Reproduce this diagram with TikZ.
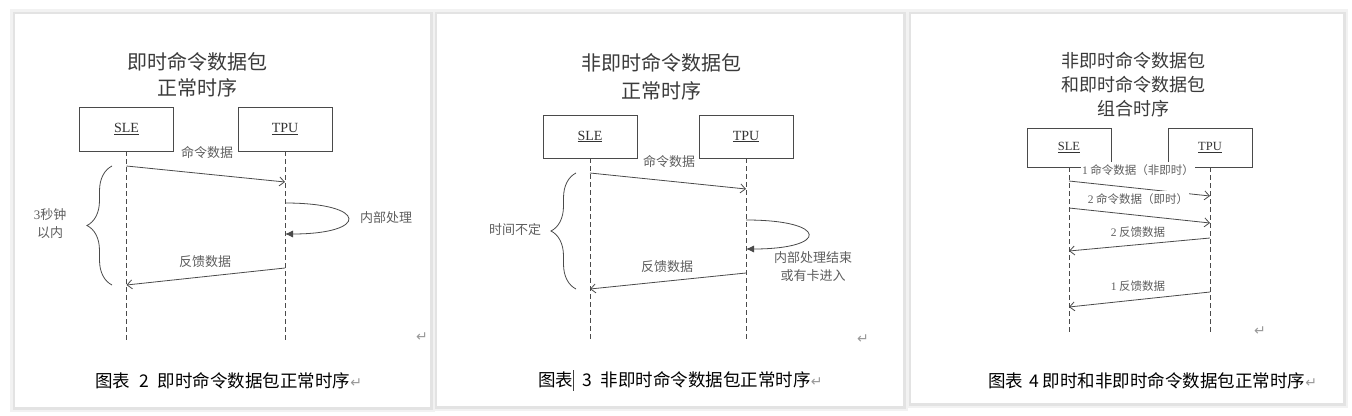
\documentclass[tikz,border=0pt]{standalone}
\usepackage{fontspec}
\setmainfont{Liberation Serif}
\newfontfamily\zhfont{Noto Sans CJK SC}
\newfontfamily\symfont{DejaVu Sans}
\usetikzlibrary{arrows.meta,decorations.pathreplacing}
\definecolor{linegray}{HTML}{4A4A4A}
\definecolor{textgray}{HTML}{5E5E5E}
\definecolor{titlegray}{HTML}{3A3A3A}
\newcommand\latn[1]{{\rmfamily #1}}
\newcommand\retmark{{\symfont\fontsize{14}{14}\selectfont\color{black!40}↵}}

\begin{document}
\begin{tikzpicture}[x=1pt, y=-1pt,
  lifebox/.style={draw=linegray, line width=0.8pt, fill=white, minimum width=94pt,
    minimum height=44pt, inner sep=0pt, text=black!80, font=\fontsize{14}{14}\selectfont},
  smallbox/.style={lifebox, minimum width=84pt, minimum height=39pt, font=\fontsize{12.5}{12.5}\selectfont},
  lifeline/.style={draw=linegray, line width=0.8pt, dash pattern=on 5pt off 3pt},
  msg/.style={draw=linegray, line width=0.8pt, -{Straight Barb[length=5pt,width=9pt]}},
  selfmsg/.style={draw=linegray, line width=0.8pt, -{Latex[length=8pt,width=7pt]}},
  bracket/.style={draw=linegray, line width=0.8pt, decorate, decoration={brace, amplitude=25pt}},
  lbl/.style={text=textgray, inner sep=1pt, font=\zhfont\fontsize{13}{18}\selectfont, align=center},
  smalllbl/.style={lbl, fill=white, inner xsep=1pt, inner ysep=2.5pt, font=\zhfont\fontsize{11.5}{14}\selectfont},
  title/.style={text=titlegray, align=center, font=\zhfont\fontsize{20}{26}\selectfont},
  caption/.style={anchor=west, inner sep=0pt, font=\zhfont\fontsize{17.5}{20}\selectfont}]

\useasboundingbox (0,0) rectangle (1352,415);
\fill[white] (0,0) rectangle (1352,415);
% panels with their shadow
\fill[black!5] (10,9) rectangle (435,412);
\fill[black!5] (432,9) rectangle (908,411);
\fill[black!5] (906,9) rectangle (1348,408);
\fill[black!11] (12.5,11.5) rectangle (432.5,409.5);
\fill[black!11] (434.5,11.5) rectangle (905.5,408.5);
\fill[black!11] (908.5,11.5) rectangle (1345.5,405.5);
\fill[white] (15,14) rectangle (430,407);
\fill[white] (437,14) rectangle (903,406);
\fill[white] (911,14) rectangle (1343,403);

% ---- figure 2
\node[title] (title1) at (197,75) {即时命令数据包\\正常时序};
\node[lifebox] (sle1) at (126.5,129) {\underline{SLE}};
\node[lifebox] (tpu1) at (285,129) {\underline{TPU}};
\coordinate (sle1end) at (126.5,340);
\coordinate (tpu1end) at (285,340);
\draw[lifeline] (sle1) -- (sle1end);
\draw[lifeline] (tpu1) -- (tpu1end);
\draw[msg] (sle1.south |- 0,166) -- (tpu1.south |- 0,182);
\draw[selfmsg] (tpu1.south |- 0,203) .. controls +(84,0) and +(84,0) .. (tpu1.south |- 0,234);
\draw[msg] (tpu1.south |- 0,268) -- (sle1.south |- 0,285);
\node[lbl] (cmd1) at (207,153) {命令数据};
\node[lbl] (proc1) at (386,218) {内部处理};
\node[lbl] (back1) at (205,262) {反馈数据};
\draw[bracket] (112,285) -- (112,166);
\node[lbl] (time1) at (50,224) {\latn{3}秒钟\\以内};
\node (ret1) at (422,337) {\retmark};
\node[caption] (cap1) at (95,381) {图表\hspace{9pt}2\hspace{9pt}即时命令数据包正常时序\retmark};

% ---- figure 3
\node[title, font=\zhfont\fontsize{20}{28}\selectfont] (title2) at (661,77) {非即时命令数据包\\正常时序};
\node[lifebox, minimum height=43pt] (sle2) at (590,136.5) {\underline{SLE}};
\node[lifebox, minimum height=43pt] (tpu2) at (746,136.5) {\underline{TPU}};
\coordinate (sle2end) at (590,342);
\coordinate (tpu2end) at (746,342);
\draw[lifeline] (sle2) -- (sle2end);
\draw[lifeline] (tpu2) -- (tpu2end);
\draw[msg] (sle2.south |- 0,173) -- (tpu2.south |- 0,189);
\draw[selfmsg] (tpu2.south |- 0,220) .. controls +(83,0) and +(83,0) .. (tpu2.south |- 0,249);
\draw[msg] (tpu2.south |- 0,273) -- (sle2.south |- 0,289);
\node[lbl] (cmd2) at (669,162) {命令数据};
\node[lbl] (proc2) at (813,267) {内部处理结束\\或有卡进入};
\node[lbl] (back2) at (667,267) {反馈数据};
\draw[bracket] (576,289) -- (576,173);
\node[lbl] (time2) at (515,230) {时间不定};
\node (ret2) at (863,339) {\retmark};
\node[caption] (cap2) at (538,380) {图表\hspace{9pt}3\hspace{9pt}非即时命令数据包正常时序\retmark};
\draw[black!75, line width=0.6pt] (573,370) -- (573,391);

% ---- figure 4
\node[title, font=\zhfont\fontsize{18}{24}\selectfont] (title3) at (1133,85) {非即时命令数据包\\和即时命令数据包\\组合时序};
\node[smallbox] (sle3) at (1069,147.5) {\underline{SLE}};
\node[smallbox] (tpu3) at (1210,147.5) {\underline{TPU}};
\coordinate (sle3end) at (1069,333);
\coordinate (tpu3end) at (1210,333);
\draw[lifeline] (sle3) -- (sle3end);
\draw[lifeline] (tpu3) -- (tpu3end);
\draw[msg] (sle3.south |- 0,181) -- (tpu3.south |- 0,196);
\draw[msg] (sle3.south |- 0,208) -- (tpu3.south |- 0,223);
\draw[msg] (tpu3.south |- 0,238) -- (sle3.south |- 0,251);
\draw[msg] (tpu3.south |- 0,292) -- (sle3.south |- 0,307);
\node[smalllbl] (cmd3a) at (1138,170) {\latn{1} 命令数据（非即时）};
\node[smalllbl] (cmd3b) at (1138,199) {\latn{2} 命令数据（即时）};
\node[smalllbl] (back3b) at (1138,232) {\latn{2} 反馈数据};
\node[smalllbl] (back3a) at (1138,286) {\latn{1} 反馈数据};
\node (ret3) at (1260,331) {\retmark};
\node[caption] (cap3) at (988,381) {图表\hspace{6pt}4\hspace{4pt}即时和非即时命令数据包正常时序\retmark};
\end{tikzpicture}
\end{document}
